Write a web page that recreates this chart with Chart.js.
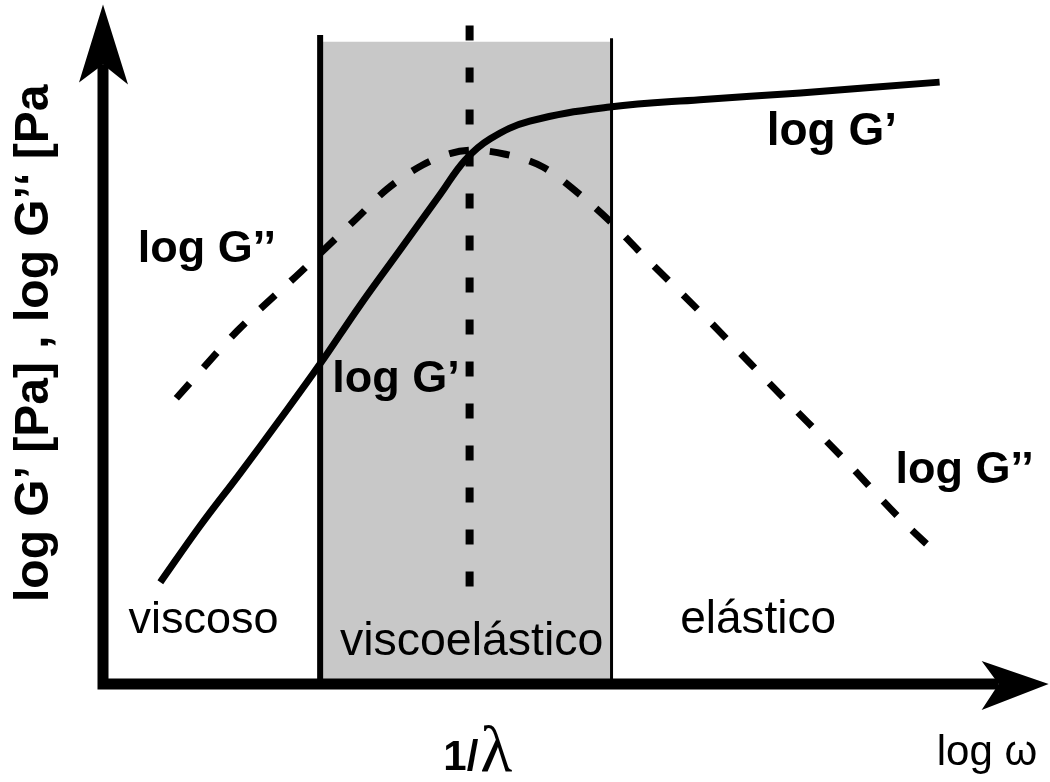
<!DOCTYPE html>
<html>
<head>
<meta charset="utf-8">
<script src="https://cdn.jsdelivr.net/npm/chart.js@4.4.1/dist/chart.umd.min.js"></script>
<style>
  html, body { margin: 0; padding: 0; background: #ffffff; overflow: hidden; }
  #wrap { width: 1050px; height: 782px; }
</style>
</head>
<body>
<div id="wrap"><canvas id="c" width="1050" height="782"></canvas></div>
<script>
// ---- data (schematic units: log ω on x, log G on y) ----
const gPrimeLogW  = [0.61, 1.03, 1.46, 1.88, 2.31, 2.73, 3.16, 3.59, 3.85, 4.12, 4.54, 5.39, 6.35, 7.42, 8.90];
const gPrimeLogG  = [1.51, 2.34, 3.13, 3.92, 4.75, 5.61, 6.44, 7.27, 7.77, 8.09, 8.35, 8.56, 8.67, 8.77, 8.93];
const gDoubleLogW = [0.78, 1.43, 2.10, 2.70, 3.02, 3.40, 3.69, 3.93, 4.28, 4.68, 5.04, 5.39, 5.69, 6.46, 7.23, 7.86, 8.46, 8.85];
const gDoubleLogG = [4.24, 5.24, 6.11, 6.91, 7.34, 7.70, 7.87, 7.92, 7.86, 7.67, 7.30, 6.87, 6.44, 5.37, 4.26, 3.37, 2.48, 1.96];
const regionBounds = [2.31, 5.41];      // viscous | viscoelastic | elastic boundaries (log ω)
const crossover    = 3.90;              // 1/λ
const regionTop    = [9.63, 9.58];      // top of boundary lines
const shadeSpan    = [2.34, 5.40, 9.53];// shaded viscoelastic zone (x0, x1, top)
const crossoverTop = 9.77, crossoverBottom = 1.07;
const axisMax      = [10.06, 10.08];    // arrow tips (x, y)

const curveNames   = ['log G’', 'log G’’', 'log G’', 'log G’’'];
const regionNames  = ['viscoso', 'viscoelástico', 'elástico'];
const xAxisTitle   = 'log ω';
const yAxisTitle   = 'log G’ [Pa] , log G’‘ [Pa';
const crossoverLabel = ['1/', 'λ'];

// ---- build datasets ----
const pts = (xs, ys) => xs.map((x, i) => ({ x: x, y: ys[i] }));

const datasets = [
  { label: 'shade', data: [{x: shadeSpan[0], y: shadeSpan[2]}, {x: shadeSpan[1], y: shadeSpan[2]}],
    fill: { value: 0 }, backgroundColor: '#c8c8c8', borderWidth: 0, pointRadius: 0, order: 10, showLine: true },
  { label: 'b1', data: [{x: regionBounds[0], y: regionTop[0]}, {x: regionBounds[0], y: 0}],
    borderColor: '#000', borderWidth: 6, pointRadius: 0, showLine: true, order: 5 },
  { label: 'b2', data: [{x: regionBounds[1], y: regionTop[1]}, {x: regionBounds[1], y: 0}],
    borderColor: '#000', borderWidth: 3, pointRadius: 0, showLine: true, order: 5 },
  { label: 'lambda', data: [{x: crossover, y: crossoverTop}, {x: crossover, y: crossoverBottom}],
    borderColor: '#000', borderWidth: 8, borderDash: [15, 27], borderCapStyle: 'butt', pointRadius: 0, showLine: true, order: 4 },
  { label: 'G2', data: pts(gDoubleLogW, gDoubleLogG),
    borderColor: '#000', borderWidth: 7, borderDash: [20, 21], borderCapStyle: 'butt',
    cubicInterpolationMode: 'monotone', pointRadius: 0, showLine: true, order: 3 },
  { label: 'G1', data: pts(gPrimeLogW, gPrimeLogG),
    borderColor: '#000', borderWidth: 7, tension: 0.4, borderJoinStyle: 'round',
    pointRadius: 0, showLine: true, order: 2 }
];

// ---- annotation layout (not data) ----
const bold = s => 'bold ' + s + 'px "Liberation Sans", Arial, sans-serif';
const norm = s => s + 'px "Liberation Sans", Arial, sans-serif';
const textItems = [
  { t: curveNames[0], x: 7.06, y: 8.00, font: bold(46) },
  { t: curveNames[1], x: 0.37, y: 6.26, font: bold(45) },
  { t: curveNames[2], x: 2.44, y: 4.33, font: bold(45) },
  { t: curveNames[3], x: 8.43, y: 2.98, font: bold(45) },
  { t: regionNames[0], x: 0.27, y: 0.76, font: norm(45) },
  { t: regionNames[1], x: 2.52, y: 0.43, font: norm(46.5) },
  { t: regionNames[2], x: 6.14, y: 0.76, font: norm(46) }
];

const schematic = {
  id: 'schematic',
  afterDatasetsDraw(chart) {
    const ctx = chart.ctx, xs = chart.scales.x, ys = chart.scales.y;
    const X = v => xs.getPixelForValue(v), Y = v => ys.getPixelForValue(v);
    ctx.save();
    ctx.fillStyle = '#000';
    ctx.strokeStyle = '#000';
    // axes
    const ox = X(0), oy = Y(0);
    const tipX = X(axisMax[0]), tipY = Y(axisMax[1]);
    ctx.lineWidth = 11;
    ctx.lineCap = 'butt';
    ctx.beginPath();
    ctx.moveTo(ox, oy + 5.5); ctx.lineTo(ox, tipY + 60);
    ctx.moveTo(ox - 5.5, oy); ctx.lineTo(tipX - 50, oy);
    ctx.stroke();
    // y arrowhead
    ctx.beginPath();
    ctx.moveTo(ox, tipY);
    ctx.lineTo(ox + 25, tipY + 80);
    ctx.lineTo(ox, tipY + 60);
    ctx.lineTo(ox - 24, tipY + 78);
    ctx.closePath(); ctx.fill();
    // x arrowhead
    ctx.beginPath();
    ctx.moveTo(tipX, oy);
    ctx.lineTo(tipX - 67, oy + 26);
    ctx.lineTo(tipX - 50, oy);
    ctx.lineTo(tipX - 67, oy - 23);
    ctx.closePath(); ctx.fill();

    // labels
    ctx.textBaseline = 'alphabetic';
    ctx.textAlign = 'left';
    textItems.forEach(it => {
      ctx.font = it.font;
      ctx.fillText(it.t, X(it.x), Y(it.y));
    });
    // 1/λ
    ctx.font = bold(42);
    const lx = X(3.62), ly = Y(-1.28);
    ctx.fillText(crossoverLabel[0], lx, ly);
    const w1 = ctx.measureText(crossoverLabel[0]).width;
    ctx.font = '66px "Liberation Serif", "DejaVu Serif", serif';
    ctx.fillText(crossoverLabel[1], lx + w1 + 2, ly + 1);
    // x axis title
    ctx.font = norm(42);
    ctx.fillText(xAxisTitle, X(8.87), Y(-1.20));
    // y axis title (rotated)
    ctx.save();
    ctx.translate(X(-0.585), Y(1.217));
    ctx.rotate(-Math.PI / 2);
    ctx.font = bold(48);
    ctx.fillText(yAxisTitle, 0, 0);
    ctx.restore();
    ctx.restore();
  }
};

new Chart(document.getElementById('c'), {
  type: 'scatter',
  data: { datasets: datasets },
  options: {
    responsive: false,
    devicePixelRatio: 1,
    animation: false,
    layout: { padding: { left: 103, right: 7, top: 10, bottom: 98 } },
    elements: { line: { tension: 0 } },
    datasets: { scatter: { clip: false } },
    plugins: { legend: { display: false }, tooltip: { enabled: false }, title: { display: false } },
    scales: {
      x: { type: 'linear', min: 0, max: 10, display: false },
      y: { type: 'linear', min: 0, max: 10, display: false }
    }
  },
  plugins: [schematic]
});
</script>
</body>
</html>
